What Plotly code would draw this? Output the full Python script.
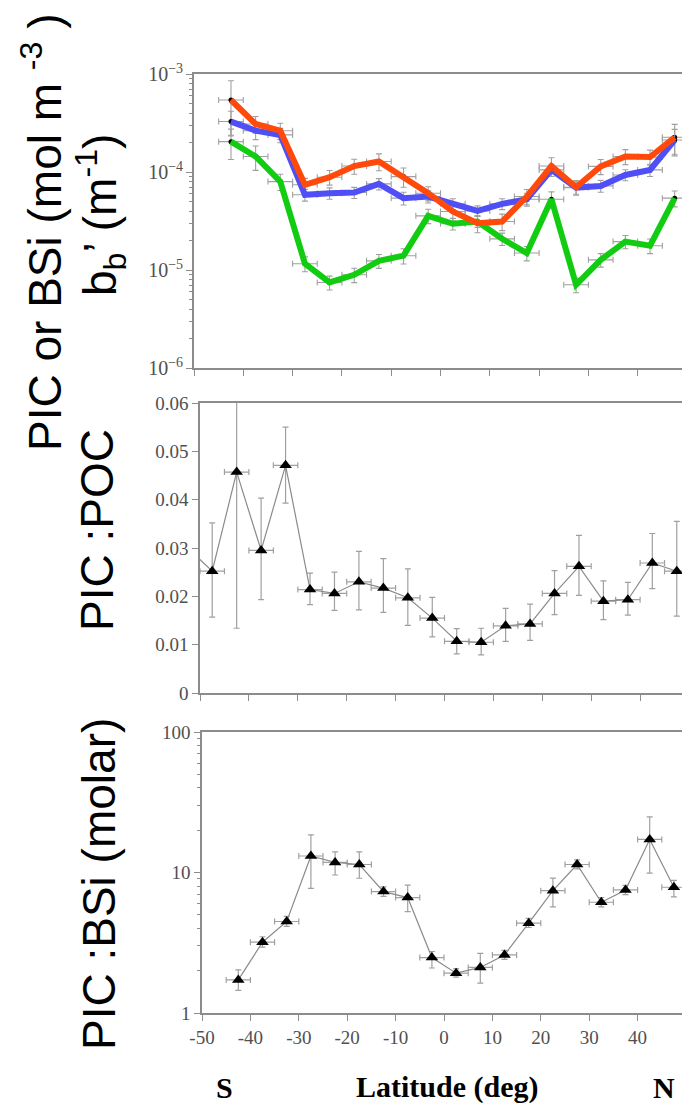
import plotly.graph_objects as go

# page body adds an 8px offset; the figure is sized so it fits the 690x1103 window
OFF = 8
W, H = 690 - OFF, 1103 - OFF

# ---------------- data ----------------
lat = [-42.5, -37.5, -32.5, -27.5, -22.5, -17.5, -12.5, -7.5, -2.5, 2.5,
       7.5, 12.5, 17.5, 22.5, 27.5, 32.5, 37.5, 42.5, 47.5]
lat_halfwidth = [2.5] * 19

# top panel: PIC (red), bb' (blue), BSi (green)
pic = [5.43e-4, 3.09e-4, 2.64e-4, 7.4e-5, 8.85e-5, 1.15e-4, 1.28e-4, 8.98e-5, 6.08e-5, 3.95e-5,
       3.0e-5, 3.12e-5, 5.62e-5, 1.15e-4, 7.0e-5, 1.14e-4, 1.44e-4, 1.42e-4, 2.26e-4]
bb = [3.27e-4, 2.64e-4, 2.39e-4, 5.85e-5, 6.08e-5, 6.17e-5, 7.56e-5, 5.41e-5, 5.62e-5, 4.73e-5,
      4.01e-5, 4.73e-5, 5.27e-5, 1.05e-4, 6.93e-5, 7.21e-5, 9.33e-5, 1.05e-4, 2.12e-4]
bsi_conc = [2.04e-4, 1.44e-4, 7.98e-5, 1.16e-5, 7.46e-6, 8.93e-6, 1.24e-5, 1.4e-5, 3.57e-5, 2.96e-5,
            3.12e-5, 2.08e-5, 1.49e-5, 5.27e-5, 7.06e-6, 1.27e-5, 1.95e-5, 1.77e-5, 5.41e-5]
pic_err = [3.1e-4, 0.6e-4, 0.5e-4, 1.2e-5, 1.5e-5, 2e-5, 2.5e-5, 2e-5, 1e-5, 8e-6,
           6e-6, 6e-6, 1e-5, 2.5e-5, 1.2e-5, 2e-5, 2.5e-5, 2.5e-5, 8e-5]
bb_err = [0.9e-4, 0.5e-4, 0.4e-4, 8e-6, 8e-6, 8e-6, 1e-5, 8e-6, 8e-6, 6e-6,
          5e-6, 6e-6, 8e-6, 1.5e-5, 1e-5, 1e-5, 1.2e-5, 1.5e-5, 6e-5]
bsi_conc_err = [0.7e-4, 0.4e-4, 1.5e-5, 2e-6, 1.2e-6, 1.5e-6, 2e-6, 2.5e-6, 6e-6, 4e-6,
                4e-6, 3e-6, 2.5e-6, 1e-5, 1.2e-6, 2e-6, 3e-6, 3e-6, 1e-5]

# middle panel: PIC:POC
poc_lat = [-52.5, -47.5, -42.5, -37.5, -32.5, -27.5, -22.5, -17.5, -12.5, -7.5, -2.5,
           2.5, 7.5, 12.5, 17.5, 22.5, 27.5, 32.5, 37.5, 42.5, 47.5]
poc_lat_err = [0] + [2.5] * 20
pic_poc = [0.0300, 0.0252, 0.0457, 0.0295, 0.0471, 0.0214, 0.0206, 0.0230, 0.0217, 0.0197, 0.0155,
           0.0107, 0.0105, 0.0139, 0.0143, 0.0206, 0.0262, 0.0190, 0.0193, 0.0269, 0.0252]
pic_poc_up = [0, 0.0100, 0.0157, 0.0108, 0.0079, 0.0034, 0.0044, 0.0063, 0.0061, 0.0060, 0.0043,
              0.0026, 0.0029, 0.0036, 0.0041, 0.0047, 0.0064, 0.0042, 0.0036, 0.0061, 0.0103]
pic_poc_dn = [0, 0.0095, 0.0323, 0.0102, 0.0078, 0.0031, 0.0035, 0.0058, 0.0050, 0.0057, 0.0039,
              0.0026, 0.0026, 0.0032, 0.0034, 0.0044, 0.0060, 0.0038, 0.0032, 0.0053, 0.0093]

# bottom panel: PIC:BSi
pic_bsi = [1.72, 3.19, 4.48, 13.1, 11.8, 11.4, 7.31, 6.63, 2.48, 1.92,
           2.11, 2.59, 4.36, 7.43, 11.4, 6.14, 7.51, 17.2, 7.85]
pic_bsi_up = [0.31, 0.3, 0.4, 5.4, 2.2, 2.6, 0.6, 1.5, 0.26, 0.15,
              0.55, 0.2, 0.35, 1.7, 0.9, 0.5, 0.6, 7.7, 0.95]
pic_bsi_dn = [0.27, 0.25, 0.35, 5.4, 2.2, 2.3, 0.55, 1.36, 0.39, 0.12,
              0.48, 0.18, 0.3, 1.73, 0.8, 0.45, 0.55, 7.3, 1.15]

x_ticks = [-50, -40, -30, -20, -10, 0, 10, 20, 30, 40, 50]
x_ticklabels = ["-50", "-40", "-30", "-20", "-10", "0", "10", "20", "30", "40", "50"]

# ---------------- figure ----------------
fig = go.Figure()

ERRC = "#a0a0a0"

def add_errs(x, y, err, xa, ya):
    fig.add_trace(go.Scatter(
        x=x, y=y, mode="markers", xaxis=xa, yaxis=ya, showlegend=False,
        marker=dict(size=5, color="black"),
        error_y=dict(type="data", array=err, color=ERRC, thickness=1.1, width=3),
        error_x=dict(type="data", array=lat_halfwidth, color=ERRC, thickness=1.1, width=3),
    ))

add_errs(lat, pic, pic_err, "x", "y")
add_errs(lat, bb, bb_err, "x", "y")
add_errs(lat, bsi_conc, bsi_conc_err, "x", "y")

for vals, col in [(bsi_conc, "#12cc12"), (bb, "#4f4ff5"), (pic, "#ff4a0c")]:
    fig.add_trace(go.Scatter(x=lat, y=vals, mode="lines", xaxis="x", yaxis="y",
                             showlegend=False, line=dict(color=col, width=6)))

fig.add_trace(go.Scatter(
    x=poc_lat, y=pic_poc, mode="lines+markers", xaxis="x2", yaxis="y2", showlegend=False,
    line=dict(color="#8a8a8a", width=1.2),
    marker=dict(symbol="triangle-up", size=11, color="black"),
    error_y=dict(type="data", symmetric=False, array=pic_poc_up, arrayminus=pic_poc_dn,
                 color=ERRC, thickness=1.2, width=3),
    error_x=dict(type="data", array=poc_lat_err, color=ERRC, thickness=1.2, width=3),
))

fig.add_trace(go.Scatter(
    x=lat, y=pic_bsi, mode="lines+markers", xaxis="x3", yaxis="y3", showlegend=False,
    line=dict(color="#8a8a8a", width=1.2),
    marker=dict(symbol="triangle-up", size=11, color="black"),
    error_y=dict(type="data", symmetric=False, array=pic_bsi_up, arrayminus=pic_bsi_dn,
                 color=ERRC, thickness=1.2, width=3),
    error_x=dict(type="data", array=lat_halfwidth, color=ERRC, thickness=1.2, width=3),
))

AX = "#8c8c8c"
SERIF = "Liberation Serif, Times New Roman, serif"

def px(x):
    return (x - OFF) / W

def py(y):
    return 1 - (y - OFF) / H

def xaxis(x0, x1, anchor, labels):
    return dict(domain=[px(x0), px(x1)], anchor=anchor, range=[-50, 50],
                tickvals=x_ticks, ticktext=x_ticklabels,
                showticklabels=labels, ticks="outside", ticklen=6, tickcolor=AX,
                showline=True, linecolor=AX, linewidth=1.5, mirror=True, automargin=False,
                showgrid=False, zeroline=False,
                tickfont=dict(family=SERIF, size=19, color="#505050"))

def ydom(top, bottom):
    return [py(bottom), py(top)]

def common_y(size):
    return dict(ticks="outside", ticklen=6, tickcolor=AX, showline=True, linecolor=AX,
                linewidth=1.5, mirror=True, showgrid=False, zeroline=False,
                automargin=False, tickfont=dict(family=SERIF, size=size, color="#505050"))

fig.update_layout(
    template="none",
    width=W, height=H, margin=dict(l=0, r=0, t=0, b=0, autoexpand=False),
    paper_bgcolor="white", plot_bgcolor="white",
    xaxis=xaxis(194, 687, "y", False),
    xaxis2=xaxis(200, 689, "y2", False),
    xaxis3=xaxis(202, 686, "y3", True),
    yaxis=dict(domain=ydom(74, 368), anchor="x", type="log", range=[-6, -3], dtick=1,
               exponentformat="power", showexponent="all",
               minor=dict(ticks="outside", ticklen=3, tickcolor=AX, dtick="D1"),
               **common_y(16)),
    yaxis2=dict(domain=ydom(403, 693), anchor="x2", range=[0, 0.06], dtick=0.01,
                **common_y(19)),
    yaxis3=dict(domain=ydom(732, 1013), anchor="x3", type="log", range=[0, 2], dtick=1,
                minor=dict(ticks="outside", ticklen=3, tickcolor=AX, dtick="D1"),
                **common_y(19)),
)

TITLEFONT = dict(family="Liberation Sans, Arial, sans-serif", size=46, color="black")
BOLD = dict(family=SERIF, size=30, color="black")

def ann(text, x, y, font, angle=-90):
    fig.add_annotation(text=text, x=px(x), y=py(y), xref="paper", yref="paper",
                       showarrow=False, textangle=angle, font=font,
                       xanchor="center", yanchor="middle")

ann("PIC or BSi (mol m <sup>-3</sup> )", 42, 232, TITLEFONT)
ann("b<sub>b</sub>’ (m<sup>-1</sup>)", 100, 215, TITLEFONT)
ann("PIC :POC", 97, 530, TITLEFONT)
ann("PIC :BSi (molar)", 99, 884, TITLEFONT)
ann("<b>S</b>", 224, 1087, BOLD, 0)
ann("<b>Latitude (deg)</b>", 447, 1087, BOLD, 0)
ann("<b>N</b>", 664, 1087, BOLD, 0)

fig.write_html("out.html")
